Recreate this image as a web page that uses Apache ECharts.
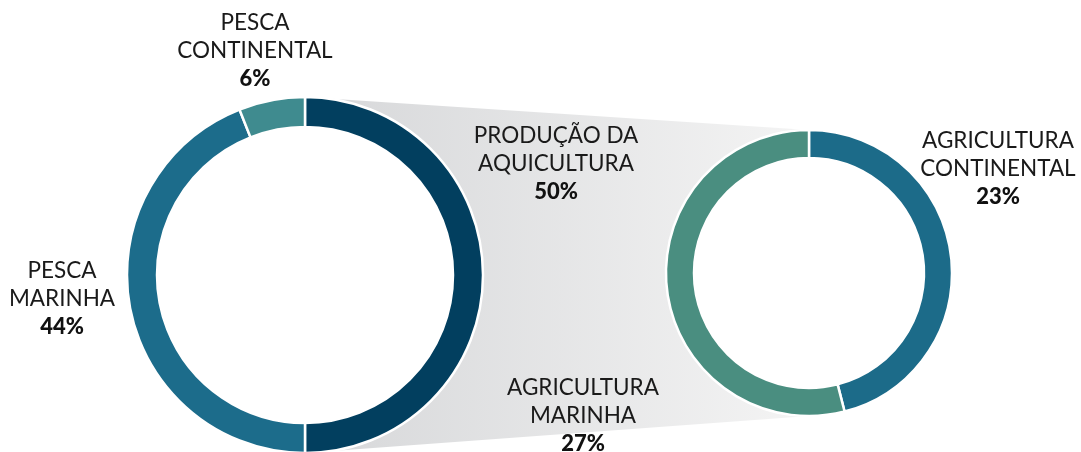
<!DOCTYPE html>
<html><head><meta charset="utf-8">
<script src="https://cdn.jsdelivr.net/npm/echarts@6/dist/echarts.min.js"></script>
<style>html,body{margin:0;padding:0;background:#fff}#c{width:1081px;height:452px}</style>
</head><body><div id="c"></div>
<script>
var leftNames = ['PRODUÇÃO DA\nAQUICULTURA', 'PESCA\nMARINHA', 'PESCA\nCONTINENTAL'];
var leftValues = [50, 44, 6];
var rightNames = ['AGRICULTURA\nCONTINENTAL', 'AGRICULTURA\nMARINHA'];
var rightValues = [23, 27];

var leftColors = ['#023f5f', '#1c6c8b', '#3f8b8f'];
var rightColors = ['#1c6b89', '#4a8e80'];

var L = {cx: 305, cy: 275, r0: 148, r: 178};
var R = {cx: 809, cy: 273, r0: 115, r: 143};

var chart = echarts.init(document.getElementById('c'));
var font = 'Lato, "Open Sans", sans-serif';

function label(name, value, x, y) {
  return {
    type: 'text', x: x, y: y, z: 10,
    style: {
      text: '{n|' + name.split('\n').join('}\n{n|') + '}\n{p|' + value + '%}',
      align: 'center', verticalAlign: 'top',
      rich: {
        n: {fontFamily: font, fontSize: 22.5, lineHeight: 28, fill: '#1a1a1a', align: 'center'},
        p: {fontFamily: font, fontSize: 22, fontWeight: 900, lineHeight: 28, fill: '#111', align: 'center'}
      }
    }
  };
}

var graphics = [
  {
    type: 'polygon', z: -2,
    shape: {points: [[L.cx, L.cy - L.r], [R.cx, R.cy - R.r], [R.cx, R.cy + R.r], [L.cx, L.cy + L.r]]},
    style: {
      fill: new echarts.graphic.LinearGradient(0, 0, 1, 0, [
        {offset: 0, color: '#d6d7d9'}, {offset: 1, color: '#f4f4f4'}
      ])
    }
  },
  {type: 'circle', z: -1, shape: {cx: L.cx, cy: L.cy, r: L.r0}, style: {fill: '#fff'}},
  {type: 'circle', z: -1, shape: {cx: R.cx, cy: R.cy, r: R.r0}, style: {fill: '#fff'}},
  label(leftNames[2], leftValues[2], 255, 9),
  label(leftNames[0], leftValues[0], 556, 122),
  label(leftNames[1], leftValues[1], 62, 257),
  label(rightNames[0], rightValues[0], 998, 127),
  label(rightNames[1], rightValues[1], 583, 374)
];

chart.setOption({
  animation: false,
  graphic: graphics,
  series: [
    {
      type: 'pie', center: [L.cx, L.cy], radius: [L.r0, L.r], startAngle: 90,
      label: {show: false}, labelLine: {show: false}, silent: true,
      itemStyle: {borderColor: '#fff', borderWidth: 2.5},
      data: leftNames.map(function (n, i) { return {name: n, value: leftValues[i], itemStyle: {color: leftColors[i]}}; })
    },
    {
      type: 'pie', center: [R.cx, R.cy], radius: [R.r0, R.r], startAngle: 90,
      label: {show: false}, labelLine: {show: false}, silent: true,
      itemStyle: {borderColor: '#fff', borderWidth: 2.5},
      data: rightNames.map(function (n, i) { return {name: n, value: rightValues[i], itemStyle: {color: rightColors[i]}}; })
    }
  ]
});
</script></body></html>
